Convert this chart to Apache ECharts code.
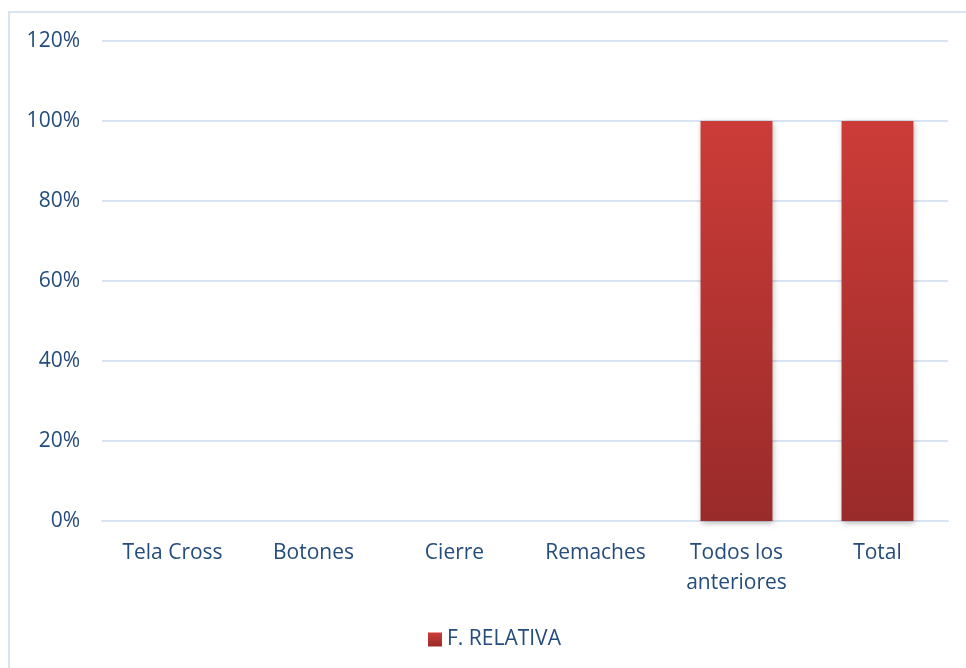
<!DOCTYPE html>
<html><head><meta charset="utf-8">
<script src="https://cdn.jsdelivr.net/npm/echarts@6/dist/echarts.min.js"></script>
<style>
html,body{margin:0;padding:0;background:#fff;overflow:hidden}
#frame{position:absolute;left:8px;top:11px;width:980px;height:680px;border:2px solid #D9E3F1;box-sizing:border-box}
#c{position:absolute;left:0;top:0;width:966px;height:668px}
</style></head>
<body><div id="frame"></div><div id="c"></div>
<script>
const categories = ['Tela Cross', 'Botones', 'Cierre', 'Remaches', 'Todos los\nanteriores', 'Total'];
const fRelativa = [0, 0, 0, 0, 1, 1];
const seriesName = 'F. RELATIVA';
const yTicks = [0, 0.2, 0.4, 0.6, 0.8, 1.0, 1.2];

const textColor = '#244C7C';
const font = 'Open Sans, Liberation Sans, sans-serif';
const chart = echarts.init(document.getElementById('c'), null, {renderer: 'canvas'});
chart.setOption({
  animation: false,
  grid: {left: 102, right: 18, top: 41, bottom: 147, containLabel: false},
  legend: {
    top: 624, left: 423,
    data: [seriesName],
    itemWidth: 14, itemHeight: 14, itemGap: 4,
    icon: 'rect',
    textStyle: {color: textColor, fontSize: 21, fontFamily: font}
  },
  xAxis: {
    type: 'category',
    data: categories,
    axisLine: {show: true, lineStyle: {color: '#D9E3F1', width: 2}},
    axisTick: {show: false},
    axisLabel: {color: textColor, fontSize: 21, fontFamily: font, margin: 17, lineHeight: 30, interval: 0}
  },
  yAxis: {
    type: 'value',
    min: yTicks[0], max: yTicks[yTicks.length - 1], interval: 0.2,
    axisLine: {show: false},
    axisTick: {show: false},
    splitLine: {lineStyle: {color: '#D9E3F1', width: 2}},
    axisLabel: {
      color: textColor, fontSize: 21, fontFamily: font, margin: 22,
      formatter: v => Math.round(v * 100) + '%'
    }
  },
  series: [{
    name: seriesName,
    type: 'bar',
    data: fRelativa,
    barWidth: '51%',
    itemStyle: {
      color: new echarts.graphic.LinearGradient(0, 0, 0, 1, [
        {offset: 0, color: '#CC3C38'},
        {offset: 1, color: '#992B2A'}
      ]),
      shadowColor: 'rgba(0,0,0,0.3)',
      shadowBlur: 6,
      shadowOffsetX: 1,
      shadowOffsetY: 2
    }
  }]
});
</script></body></html>
